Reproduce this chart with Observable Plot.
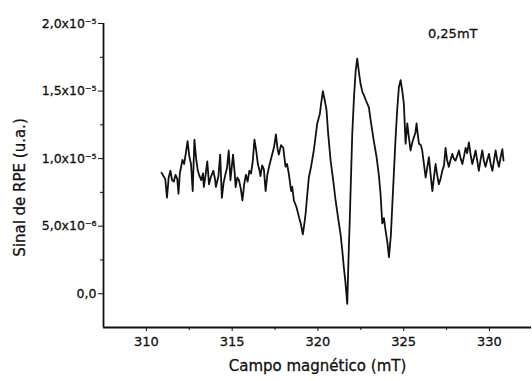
<!DOCTYPE html>
<html>
<head>
<meta charset="utf-8">
<script src="https://cdn.jsdelivr.net/npm/d3@7"></script>
<script src="https://cdn.jsdelivr.net/npm/@observablehq/plot@0.6"></script>
<style>
  html, body { margin: 0; padding: 0; background: #fff; }
  svg text { stroke: #111; stroke-width: 0.3px; }
</style>
</head>
<body>
<div id="chart"></div>
<script>
// Magnetic field (mT)
const field = [
  310.88, 311.0, 311.1, 311.2, 311.3, 311.4, 311.5, 311.6, 311.7, 311.8,
  311.87, 311.95, 312.1, 312.2, 312.3, 312.4, 312.5, 312.6, 312.7, 312.8,
  312.9, 313.0, 313.1, 313.2, 313.3, 313.35, 313.45, 313.55, 313.65, 313.75,
  313.9, 314.0, 314.05, 314.2, 314.3, 314.4, 314.5, 314.6, 314.7, 314.8,
  314.9, 315.05, 315.15, 315.2, 315.3, 315.4, 315.5, 315.6, 315.7, 315.8,
  315.9, 316.0, 316.1, 316.2, 316.3, 316.4, 316.5, 316.6, 316.65, 316.75,
  316.85, 316.95, 317.05, 317.15, 317.25, 317.35, 317.45, 317.55, 317.65, 317.72,
  317.85, 317.98, 318.11, 318.2, 318.3, 318.44, 318.5, 318.6, 318.75, 318.9,
  319.0, 319.12, 319.2, 319.28, 319.37, 319.47, 319.6, 319.76, 319.85, 319.96,
  320.11, 320.2, 320.29, 320.4, 320.5, 320.6, 320.74, 320.9, 321.03, 321.2,
  321.32, 321.42, 321.51, 321.6, 321.71, 321.78, 321.86, 322.0, 322.1, 322.2,
  322.29, 322.4, 322.49, 322.6, 322.68, 322.8, 322.97, 323.1, 323.26, 323.42,
  323.55, 323.65, 323.75, 323.85, 323.94, 324.05, 324.14, 324.25, 324.33, 324.43,
  324.53, 324.62, 324.72, 324.82, 324.92, 325.01, 325.11, 325.21, 325.3, 325.4,
  325.5, 325.6, 325.68, 325.75, 325.82, 325.89, 326.0, 326.08, 326.18, 326.28,
  326.38, 326.47, 326.57, 326.67, 326.76, 326.86, 326.95, 327.05, 327.15, 327.25,
  327.35, 327.44, 327.53, 327.63, 327.73, 327.83, 327.92, 328.02, 328.12, 328.22,
  328.32, 328.42, 328.52, 328.61, 328.7, 328.8, 328.9, 329.0, 329.1, 329.19,
  329.28, 329.38, 329.48, 329.58, 329.68, 329.77, 329.87, 329.97, 330.07, 330.17,
  330.27, 330.36, 330.45, 330.55, 330.65, 330.75, 330.82
];
// EPR signal (a.u.), in units of 1e-6
const signal = [
  8.96, 8.7, 8.5, 7.1, 8.6, 9.1, 8.4, 8.3, 8.8, 8.5,
  7.4, 8.9, 9.9, 9.6, 10.4, 11.3, 10.2, 9.6, 7.6, 11.4,
  10.0, 9.1, 8.7, 8.4, 8.9, 7.9, 8.8, 9.8, 8.1, 8.6,
  9.1, 8.5, 7.9, 8.7, 10.3, 7.1, 8.2, 8.8, 9.3, 10.6,
  8.4, 10.3, 8.9, 7.9, 8.6, 8.4, 7.8, 6.9, 8.1, 8.8,
  8.3, 9.1, 8.9, 9.8, 11.4, 10.6, 9.6, 9.1, 8.7, 9.5,
  9.2, 7.6, 8.8, 9.4, 9.9, 10.4, 10.9, 11.8, 10.7, 10.3,
  11.0, 10.8, 9.4, 9.6, 8.9, 7.6, 7.9, 6.9, 6.4, 5.65,
  5.2, 4.4, 5.1, 5.9, 7.2, 8.6, 9.4, 10.6, 11.5, 12.6,
  13.3, 14.2, 15.0, 14.3, 13.6, 11.8, 9.85, 8.3, 6.9, 5.4,
  4.4, 3.2, 1.95, 0.9, -0.75, 2.5, 5.65, 11.8, 14.5, 16.5,
  17.4, 16.3, 15.5, 14.9, 14.7, 14.3, 13.8, 12.6, 11.3, 10.1,
  8.8, 7.4, 5.2, 5.6, 4.7, 3.8, 2.7, 4.3, 6.4, 9.0,
  11.6, 13.6, 15.3, 15.8, 15.0, 14.05, 11.1, 12.6, 11.6, 10.6,
  11.2, 11.6, 11.9, 12.6, 11.8, 11.1, 11.0, 10.6, 9.6, 8.6,
  9.4, 10.1, 8.8, 7.6, 8.6, 9.6, 8.8, 8.1, 8.5, 9.1,
  9.5, 10.8, 9.9, 9.4, 9.9, 10.35, 10.0, 9.85, 10.2, 10.6,
  10.0, 9.6, 10.2, 10.8, 10.4, 11.2, 10.3, 9.6, 10.1, 10.6,
  9.9, 9.1, 9.9, 10.6, 9.8, 9.4, 9.9, 10.35, 9.6, 9.1,
  9.9, 10.6, 9.9, 9.4, 10.1, 10.7, 9.85
];

const xDomain = [307.5, 332.45];
const yDomain = [-2.5, 20];
const xTicks = [310, 315, 320, 325, 330];
const xMinorTicks = [312.5, 317.5, 322.5, 327.5];
const yTicks = [0, 5, 10, 15, 20];
const yTickLabels = ["0,0", "5,0x10⁻⁶", "1,0x10⁻⁵", "1,5x10⁻⁵", "2,0x10⁻⁵"];
const yMinorTicks = [2.5, 7.5, 12.5, 17.5];
const xLabel = "Campo magnético (mT)";
const yLabel = "Sinal de RPE (u.a.)";
const note = "0,25mT";

const data = field.map((f, i) => ({field: f, signal: signal[i]}));

const chart = Plot.plot({
  width: 532,
  height: 381,
  marginLeft: 103,
  marginRight: 1,
  marginTop: 23,
  marginBottom: 54,
  style: {fontFamily: "DejaVu Sans, sans-serif", fontSize: "12px", color: "#111", background: "#fff", overflow: "visible"},
  x: {domain: xDomain},
  y: {domain: yDomain},
  marks: [
    Plot.ruleX([xDomain[0]], {stroke: "#111", strokeWidth: 1.8}),
    Plot.ruleY([yDomain[0]], {stroke: "#111", strokeWidth: 1.8}),
    Plot.axisX({ticks: xTicks, tickSize: 4, tickPadding: 5, fontSize: 13, label: null, stroke: "#111"}),
    Plot.axisX({ticks: xMinorTicks, tickSize: 3, tickFormat: () => "", label: null}),
    Plot.axisY({ticks: yTicks, tickSize: 5, tickPadding: 2, fontSize: 12.5, label: null,
      tickFormat: d => yTickLabels[yTicks.indexOf(d)]}),
    Plot.axisY({ticks: yMinorTicks, tickSize: 3, tickFormat: () => "", label: null}),
    Plot.text([xLabel], {frameAnchor: "bottom", dy: 43, fontSize: 15, fill: "#111"}),
    Plot.text([yLabel], {frameAnchor: "left", textAnchor: "middle", rotate: -90, dx: -83, dy: 12, fontSize: 15, fill: "#111"}),
    Plot.text([note], {frameAnchor: "top-right", dx: -54, dy: 5, fontSize: 13, fill: "#111"}),
    Plot.line(data, {x: "field", y: "signal", stroke: "#111", strokeWidth: 1.8, strokeLinejoin: "round"})
  ]
});
document.getElementById("chart").appendChild(chart);
</script>
</body>
</html>
